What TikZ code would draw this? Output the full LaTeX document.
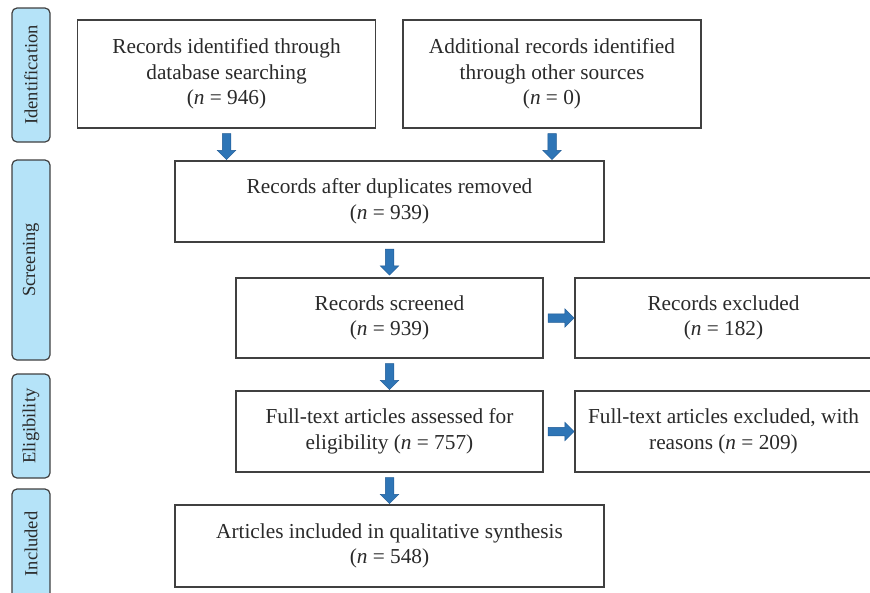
\documentclass[tikz,border=0pt]{standalone}
\usepackage{fontspec}
\setmainfont{Liberation Serif}
\usetikzlibrary{shapes.arrows,calc}
\definecolor{boxline}{HTML}{404040}
\definecolor{txt}{HTML}{2A2A2A}
\definecolor{sidefill}{HTML}{B5E3F8}
\definecolor{arrfill}{HTML}{2E75B6}
\definecolor{arrline}{HTML}{1F5A94}
\tikzset{
  box/.style={draw=boxline, line width=1.3pt, fill=white, align=center, inner sep=0pt,
    text=txt, font=\fontsize{21.3}{25.5}\selectfont},
  side/.style={draw=boxline, line width=1.2pt, fill=sidefill, rounded corners=5pt,
    minimum width=38pt, inner sep=0pt},
  sidetext/.style={rotate=90, text=txt, font=\fontsize{18.5}{22}\selectfont, inner sep=0pt},
  blockarrow/.style={single arrow, draw=arrline, line width=0.5pt, fill=arrfill,
    minimum height=26pt, inner sep=4pt, single arrow head extend=5pt,
    single arrow tip angle=90},
}
\begin{document}
\begin{tikzpicture}[x=1pt,y=-1pt]
\useasboundingbox (0,0) rectangle (870,592);
\begin{scope}
\clip (0,0) rectangle (870,592);
% side labels
\node[side, minimum height=134pt] (sid) at (31,75) {};
\node[sidetext] (tid) at (sid.center) {Identification};
\node[side, minimum height=200pt] (ssc) at (31,260) {};
\node[sidetext] (tsc) at (ssc.center) {Screening};
\node[side, minimum height=104pt] (sel) at (31,426) {};
\node[sidetext] (tel) at (sel.center) {Eligibility};
\node[side, minimum height=110pt] (sin) at (31,544) {};
\node[sidetext] (tin) at (sin.center) {Included};
% boxes
\node[box, minimum width=298pt, minimum height=108pt] (b1) at (226.5,74)
  {Records identified through\\ database searching\\ (\textit{n}~=~946)};
\node[box, minimum width=298pt, minimum height=108pt] (b2) at (552,74)
  {Additional records identified\\ through other sources\\ (\textit{n}~=~0)};
\node[box, minimum width=429pt, minimum height=81pt] (b3) at (389.5,201.5)
  {Records after duplicates removed\\ (\textit{n}~=~939)};
\node[box, minimum width=307pt, minimum height=80pt] (b4) at (389.5,318)
  {Records screened\\ (\textit{n}~=~939)};
\node[box, minimum width=297pt, minimum height=80pt] (b5) at (723.5,318)
  {Records excluded\\ (\textit{n}~=~182)};
\node[box, minimum width=307pt, minimum height=81pt] (b6) at (389.5,431.5)
  {Full-text articles assessed for\\ eligibility (\textit{n}~=~757)};
\node[box, minimum width=297pt, minimum height=81pt] (b7) at (723.5,431.5)
  {Full-text articles excluded, with\\ reasons (\textit{n}~=~209)};
\node[box, minimum width=429pt, minimum height=82pt] (b8) at (389.5,546)
  {Articles included in qualitative synthesis\\ (\textit{n}~=~548)};
% arrows
\node[blockarrow, shape border rotate=270] (a1) at ($(b1.south)!.5!(b1.south|-b3.north)$) {};
\node[blockarrow, shape border rotate=270] (a2) at ($(b2.south)!.5!(b2.south|-b3.north)$) {};
\node[blockarrow, shape border rotate=270] (a3) at ($(b3.south)!.5!(b4.north)$) {};
\node[blockarrow, shape border rotate=270] (a4) at ($(b4.south)!.5!(b6.north)$) {};
\node[blockarrow, shape border rotate=270] (a5) at ($(b6.south)!.5!(b8.north)$) {};
\node[blockarrow] (a6) at ($(b4.east)!.5!(b5.west)$) {};
\node[blockarrow] (a7) at ($(b6.east)!.5!(b7.west)$) {};
\end{scope}
\end{tikzpicture}
\end{document}
